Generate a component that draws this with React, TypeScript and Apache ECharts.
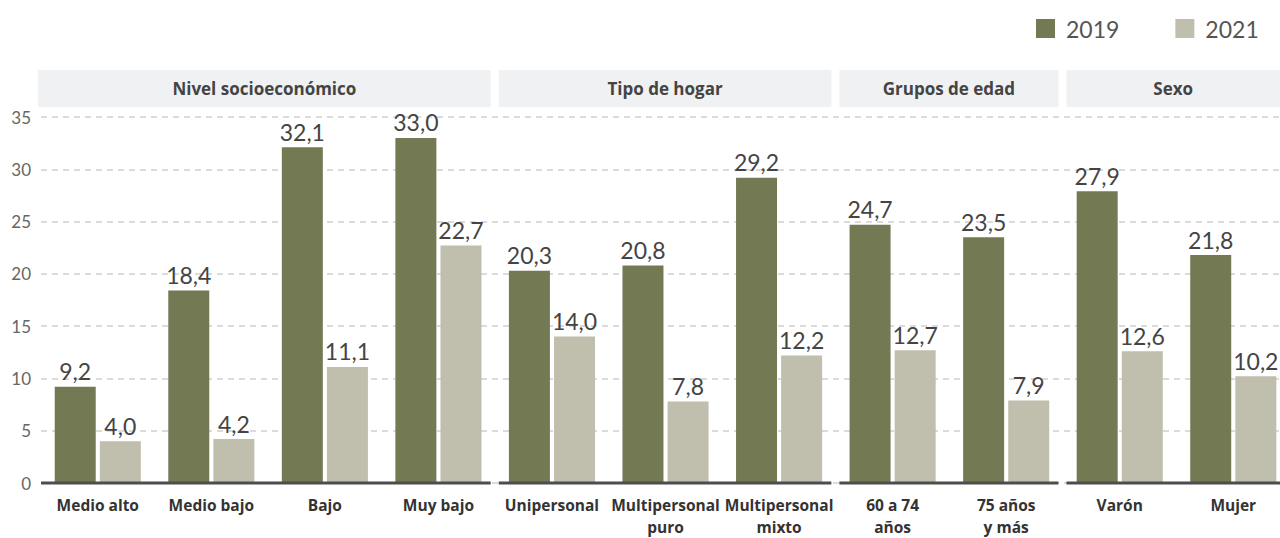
import React, { useEffect, useRef } from "react";
import * as echarts from "echarts";

const categories = [
  "Medio alto",
  "Medio bajo",
  "Bajo",
  "Muy bajo",
  "Unipersonal",
  "Multipersonal\npuro",
  "Multipersonal\nmixto",
  "60 a 74\naños",
  "75 años\ny más",
  "Varón",
  "Mujer",
];
const values2019 = [9.2, 18.4, 32.1, 33.0, 20.3, 20.8, 29.2, 24.7, 23.5, 27.9, 21.8];
const values2021 = [4.0, 4.2, 11.1, 22.7, 14.0, 7.8, 12.2, 12.7, 7.9, 12.6, 10.2];
const groupNames = ["Nivel socioeconómico", "Tipo de hogar", "Grupos de edad", "Sexo"];
const groupSizes = [4, 3, 2, 2];

const C2019 = "#737a53";
const C2021 = "#c0beac";
const LIGHT_FONT = "Lato, 'Open Sans', sans-serif";
const BOLD_FONT = "'Open Sans', Lato, sans-serif";

export default function App() {
  const ref = useRef<HTMLDivElement>(null);
  useEffect(() => {
    if (!ref.current) return;
    const chart = echarts.init(ref.current, undefined, { renderer: "svg" });
    const gridLeft = 41;
    const band = 113.55;
    const gridTop = 117;
    const gridHeight = 366;
    const axisY = gridTop + gridHeight;

    const graphics: any[] = [];
    let start = 0;
    groupNames.forEach((name, gi) => {
      const end = start + groupSizes[gi];
      const bx0 = gridLeft + start * band;
      const bx1 = gridLeft + end * band;
      const boxX0 = gi === 0 ? bx0 - 3 : bx0 + 3.5;
      const boxX1 = Math.min(bx1 - 4.5, 1280);
      const lineX0 = gi === 0 ? bx0 : bx0 + 3.5;
      graphics.push({
        type: "rect",
        shape: { x: boxX0, y: 70, width: boxX1 - boxX0, height: 37 },
        style: { fill: "#f0f1f3" },
        silent: true,
        z: 0,
      });
      graphics.push({
        type: "text",
        x: (boxX0 + boxX1) / 2,
        y: 88.5,
        style: {
          text: name,
          fill: "#444444",
          font: "bold 17px " + BOLD_FONT,
          textAlign: "center",
          textVerticalAlign: "middle",
        },
        silent: true,
        z: 1,
      });
      graphics.push({
        type: "line",
        shape: { x1: lineX0, y1: axisY, x2: boxX1, y2: axisY },
        style: { stroke: "#4d4d4d", lineWidth: 3 },
        silent: true,
        z: 10,
      });
      start = end;
    });

    const fmt = (p: any) => Number(p.value).toFixed(1).replace(".", ",");
    const labelStyle = {
      show: true,
      position: "top" as const,
      distance: 4,
      fontSize: 23,
      color: "#444444",
      fontFamily: LIGHT_FONT,
      fontWeight: 400 as any,
      formatter: fmt,
    };

    chart.setOption({
      animation: false,
      legend: {
        left: 1036,
        top: 17,
        padding: 0,
        itemWidth: 19,
        itemHeight: 19,
        itemGap: 56,
        icon: "rect",
        textStyle: {
          fontSize: 23,
          color: "#555555",
          fontFamily: LIGHT_FONT,
          fontWeight: 400 as any,
          padding: [0, 0, 0, 6],
        },
        data: ["2019", "2021"],
      },
      grid: {
        left: gridLeft,
        top: gridTop,
        width: band * categories.length,
        height: gridHeight,
        containLabel: false,
        outerBoundsMode: "none",
      },
      xAxis: {
        type: "category",
        data: categories,
        axisLine: { show: false },
        axisTick: { show: false },
        axisLabel: {
          interval: 0,
          margin: 11,
          fontSize: 15.5,
          fontWeight: "bold",
          color: "#333333",
          lineHeight: 22,
          fontFamily: BOLD_FONT,
        },
      },
      yAxis: {
        type: "value",
        min: 0,
        max: 35,
        interval: 5,
        axisLine: { show: false },
        axisTick: { show: false },
        axisLabel: {
          margin: 10,
          fontSize: 17,
          color: "#666666",
          fontFamily: LIGHT_FONT,
          fontWeight: 400 as any,
        },
        splitLine: {
          lineStyle: { color: "#d0d0d0", width: 1.5, type: [6, 5] },
        },
      },
      series: [
        {
          name: "2019",
          type: "bar",
          data: values2019,
          barWidth: 41,
          barGap: "10%",
          itemStyle: { color: C2019 },
          label: labelStyle,
        },
        {
          name: "2021",
          type: "bar",
          data: values2021,
          barWidth: 41,
          barGap: "10%",
          itemStyle: { color: C2021 },
          label: labelStyle,
        },
      ],
      graphic: graphics,
    });
    return () => chart.dispose();
  }, []);
  return (
    <div
      ref={ref}
      style={{ position: "fixed", left: 0, top: 0, width: 1280, height: 538, background: "#ffffff" }}
    />
  );
}
